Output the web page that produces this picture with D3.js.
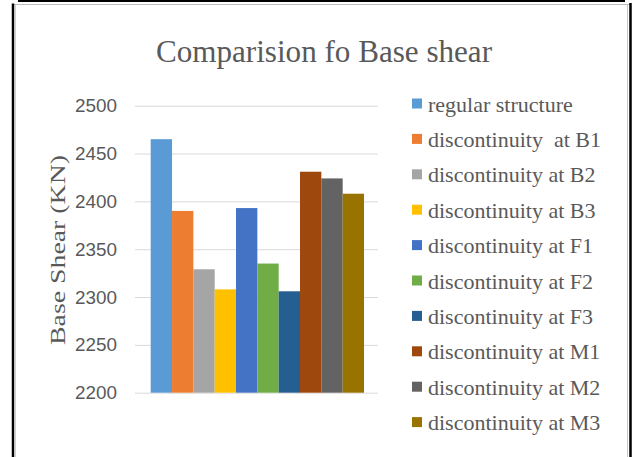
<!DOCTYPE html>
<html>
<head>
<meta charset="utf-8">
<script src="https://cdnjs.cloudflare.com/ajax/libs/d3/7.8.5/d3.min.js"></script>
<style>
  body { margin:0; background:#fff; }
  .axis .domain { display:none; }
  .axis line { stroke:#d9d9d9; }
  .axis text { font-family:"Liberation Sans", Arial, sans-serif; font-size:19px; fill:#595959; }
</style>
</head>
<body>
<div id="canvas"></div>
<script>
// data
var categories = ['Base shear'];
var series = ['regular structure', 'discontinuity  at B1', 'discontinuity at B2', 'discontinuity at B3',
  'discontinuity at F1', 'discontinuity at F2', 'discontinuity at F3',
  'discontinuity at M1', 'discontinuity at M2', 'discontinuity at M3'];
var values = [2465, 2390, 2329, 2308, 2393, 2335, 2306, 2431, 2424, 2408];
var colors = ['#5B9BD5', '#ED7D31', '#A5A5A5', '#FFC000', '#4472C4', '#70AD47', '#255E91', '#9E480E', '#636363', '#997300'];
var yTicks = [2200, 2250, 2300, 2350, 2400, 2450, 2500];

var W = 632, H = 457;
var plot = {l:135, r:378, t:105.7, b:392.7};

var svg = d3.select('#canvas')
    .append('svg')
    .attr('width', W)
    .attr('height', H);

// frame
svg.append('line').attr('x1',18).attr('x2',625).attr('y1',1).attr('y2',1)
    .attr('stroke','#000').attr('stroke-width',2);
svg.append('line').attr('x1',13).attr('x2',630).attr('y1',4.5).attr('y2',4.5)
    .attr('stroke','#bfbfbf').attr('stroke-width',1);
svg.append('line').attr('x1',13).attr('x2',13).attr('y1',3.5).attr('y2',H)
    .attr('stroke','#000').attr('stroke-width',2.5);
svg.append('line').attr('x1',15.5).attr('x2',15.5).attr('y1',5).attr('y2',H)
    .attr('stroke','#d0d0d0').attr('stroke-width',1);
svg.append('line').attr('x1',630.5).attr('x2',630.5).attr('y1',3).attr('y2',H)
    .attr('stroke','#000').attr('stroke-width',2.5);
svg.append('line').attr('x1',627.5).attr('x2',627.5).attr('y1',5).attr('y2',H)
    .attr('stroke','#c8c8c8').attr('stroke-width',1);

// title
svg.append('text')
    .attr('x', 324).attr('y', 61.5)
    .attr('text-anchor','middle')
    .attr('textLength', 336).attr('lengthAdjust','spacingAndGlyphs')
    .style('font-family','"Liberation Serif", "Times New Roman", serif')
    .style('font-size','32px')
    .style('fill','#595959')
    .text('Comparision fo Base shear');

var scaleY = d3.scaleLinear()
    .domain([2200, 2500])
    .range([plot.b, plot.t]);

var scaleX0 = d3.scaleBand()
    .domain(categories)
    .range([plot.l, plot.r]);

var scaleX1 = d3.scaleBand()
    .domain(series)
    .range([15.7, scaleX0.bandwidth() - 14]);

var axisY = d3.axisLeft()
    .scale(scaleY)
    .tickValues(yTicks)
    .tickFormat(d3.format('d'))
    .tickSize(-(plot.r - plot.l))
    .tickPadding(18);

svg.append('g')
    .attr('class','axis axis-y')
    .attr('transform','translate(' + plot.l + ',0)')
    .call(axisY);

// squeeze the tick digits a little, like the original
svg.selectAll('.axis-y .tick text')
    .attr('textLength', 42).attr('lengthAdjust','spacingAndGlyphs');

// y axis title
svg.append('text')
    .attr('transform','translate(65,250) rotate(-90)')
    .attr('text-anchor','middle')
    .attr('textLength', 190).attr('lengthAdjust','spacingAndGlyphs')
    .style('font-family','"Liberation Serif", "Times New Roman", serif')
    .style('font-size','21px')
    .style('fill','#595959')
    .text('Base Shear (KN)');

// bars
var groups = svg.selectAll('.cat')
    .data(categories)
    .enter()
    .append('g')
    .attr('class','cat')
    .attr('transform', function(d){ return 'translate(' + scaleX0(d) + ',0)'; });

groups.selectAll('rect')
    .data(series.map(function(s,i){ return {name:s, value:values[i], color:colors[i]}; }))
    .enter()
    .append('rect')
    .attr('x', function(d){ return scaleX1(d.name); })
    .attr('y', function(d){ return scaleY(d.value); })
    .attr('width', scaleX1.bandwidth())
    .attr('height', function(d){ return scaleY(2200) - scaleY(d.value); })
    .style('fill', function(d){ return d.color; });

// legend
var legend = svg.selectAll('.legend')
    .data(series)
    .enter()
    .append('g')
    .attr('class','legend')
    .attr('transform', function(d,i){ return 'translate(412,' + (104 + i*35.4) + ')'; });

legend.append('rect')
    .attr('x',0).attr('y',-5.5)
    .attr('width',10).attr('height',10)
    .style('fill', function(d,i){ return colors[i]; });

legend.append('text')
    .attr('x',16).attr('y',7.5)
    .style('font-family','"Liberation Serif", "Times New Roman", serif')
    .style('font-size','22px')
    .style('fill','#595959')
    .style('white-space','pre')
    .text(function(d){ return d; });
</script>
</body>
</html>
